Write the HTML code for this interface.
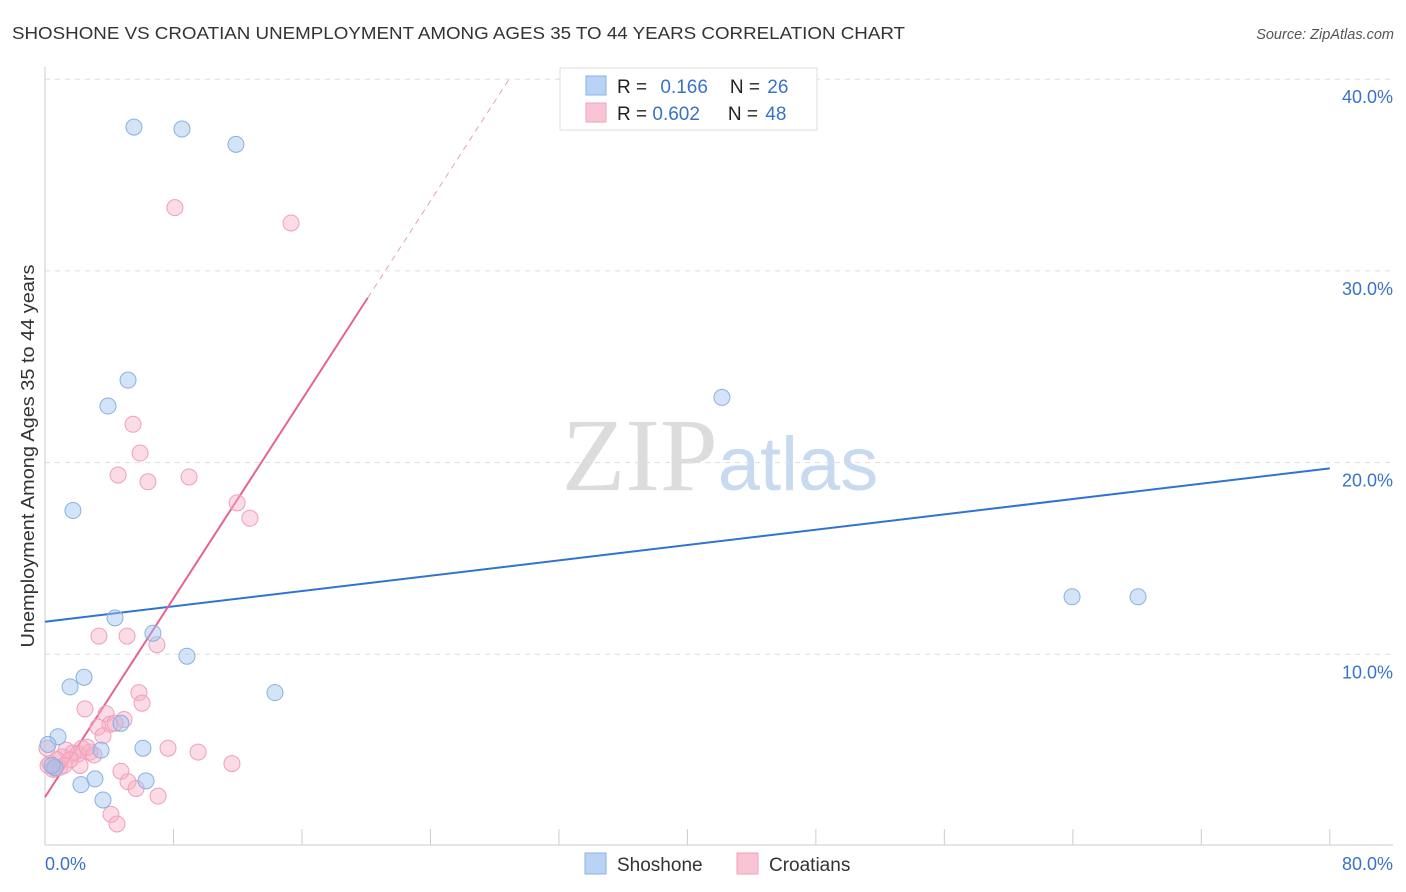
<!DOCTYPE html>
<html><head><meta charset="utf-8"><style>
body{margin:0;background:#fff;font-family:"Liberation Sans",sans-serif;}
svg{display:block}
</style></head><body>
<svg id="chart" width="1406" height="892" xmlns="http://www.w3.org/2000/svg" font-family="Liberation Sans, sans-serif">
<text x="12" y="39" font-size="17.5" fill="#333" textLength="893" lengthAdjust="spacingAndGlyphs">SHOSHONE VS CROATIAN UNEMPLOYMENT AMONG AGES 35 TO 44 YEARS CORRELATION CHART</text>
<text x="1394" y="39" font-size="14.5" fill="#555" font-style="italic" text-anchor="end">Source: ZipAtlas.com</text>
<text x="720" y="490" font-size="104" text-anchor="middle"><tspan font-family="Liberation Serif, serif" fill="#dcdcdc">ZIP</tspan><tspan fill="#c8daf0" font-size="76">atlas</tspan></text>
<g id="grid"></g>
<g id="axes"></g>
<g id="lines"></g>
<g id="points"></g>
<text transform="translate(34,456) rotate(-90)" font-size="18" fill="#333" text-anchor="middle" textLength="383" lengthAdjust="spacingAndGlyphs">Unemployment Among Ages 35 to 44 years</text>
<g>
<rect x="560" y="68" width="257" height="62" fill="#fff" stroke="#ddd"/>
<rect x="586" y="76" width="20" height="19" fill="#b8d3f5" stroke="#8ab0e0"/>
<rect x="586" y="103" width="20" height="19" fill="#f8c4d4" stroke="#f0a0b8"/>
<text x="617" y="93" font-size="19" fill="#222">R = <tspan fill="#3a72c8" dx="8">0.166</tspan><tspan dx="22" fill="#222">N = </tspan><tspan fill="#3a72c8" dx="2">26</tspan></text>
<text x="617" y="120" font-size="19" fill="#222">R = <tspan fill="#3a72c8">0.602</tspan><tspan dx="28" fill="#222">N = </tspan><tspan fill="#3a72c8" dx="2">48</tspan></text>
</g>
<g>
<rect x="585" y="853" width="21" height="21" fill="#b8d3f5" stroke="#8ab0e0"/>
<text x="617" y="871" font-size="19" fill="#333">Shoshone</text>
<rect x="737" y="853" width="21" height="21" fill="#f8c4d4" stroke="#f0a0b8"/>
<text x="769" y="871" font-size="19" fill="#333">Croatians</text>
</g>
<text x="45" y="870" font-size="18" fill="#3a72c8">0.0%</text>
<text x="1393" y="870" font-size="18" fill="#3a72c8" text-anchor="end">80.0%</text>
</svg>
<script>
const yTicks=[10,20,30,40];
const yTickLabels=["10.0%","20.0%","30.0%","40.0%"];
const xTicks=[0,8,16,24,32,40,48,56,64,72,80];
const shoshoneX=[5.54,8.53,11.89,5.17,3.92,42.15,1.74,4.36,6.72,8.84,2.43,1.56,14.32,4.73,0.81,0.19,3.49,6.10,0.62,3.11,6.29,2.24,3.61,63.95,68.06,0.44];
const shoshoneY=[37.5,37.4,36.6,24.3,22.95,23.4,17.5,11.9,11.1,9.9,8.8,8.3,8.0,6.4,5.7,5.3,5.0,5.1,4.1,3.5,3.4,3.2,2.4,13.0,13.0,4.2];
const croatX=[8.09,15.32,5.48,5.92,4.55,6.41,8.97,11.96,12.76,3.36,5.11,6.97,5.85,6.04,2.49,3.80,4.92,4.05,3.30,3.61,4.36,7.66,9.53,2.30,1.31,2.80,3.05,1.74,2.05,1.06,0.75,0.31,0.19,0.62,0.93,2.18,4.73,11.64,5.17,5.67,7.04,4.11,4.48,0.50,1.56,2.62,1.18,0.12];
const croatY=[33.3,32.5,22.0,20.5,19.35,19.0,19.25,17.9,17.1,10.95,10.95,10.5,8.0,7.45,7.15,6.9,6.6,6.35,6.2,5.75,6.4,5.1,4.9,5.1,5.0,4.9,4.75,4.85,4.8,4.65,4.5,4.3,4.2,4.05,4.1,4.2,3.9,4.3,3.35,3.0,2.6,1.65,1.15,4.0,4.5,5.15,4.2,5.1];
const blueLine=[11.7,19.7]; // y at x=0 and x=80
const pinkLine=[2.55,28.6,20.1]; // y at 0, y at solid end, x solid end
const NS="http://www.w3.org/2000/svg";
const sx=v=>45+v*16.06, sy=v=>846-v*19.17;
function mk(t,a,p){const e=document.createElementNS(NS,t);for(const k in a)e.setAttribute(k,a[k]);p.appendChild(e);return e;}
const grid=document.getElementById('grid'),axes=document.getElementById('axes'),lines=document.getElementById('lines'),pts=document.getElementById('points');
yTicks.forEach((t,i)=>{
 const l=mk('line',{x1:45,x2:1393,y1:sy(t),y2:sy(t),stroke:'#ddd','stroke-dasharray':'5,5'},grid);
 
 
 const tx=mk('text',{x:1393,y:sy(t)+24,'font-size':18,fill:'#3a72c8','text-anchor':'end'},grid);
 tx.textContent=yTickLabels[i];
 
 
});
mk('line',{x1:45,x2:45,y1:67,y2:845,stroke:'#ccc'},axes);
mk('line',{x1:45,x2:1393,y1:845,y2:845,stroke:'#ccc'},axes);
xTicks.forEach(t=>{const l=mk('line',{x1:sx(t),x2:sx(t),y1:829,y2:845,stroke:'#ccc'},axes);
 
 });
const bl=mk('line',{x1:sx(0),y1:sy(blueLine[0]),x2:sx(80),y2:sy(blueLine[1]),stroke:'#2f74d0','stroke-width':2},lines);


const slope=(pinkLine[1]-pinkLine[0])/pinkLine[2];
const pl=mk('line',{x1:sx(0),y1:sy(pinkLine[0]),x2:sx(pinkLine[2]),y2:sy(pinkLine[1]),stroke:'#e8628e','stroke-width':2},lines);


const xe=(40-pinkLine[0])/slope;
const pd=mk('line',{x1:sx(pinkLine[2]),y1:sy(pinkLine[1]),x2:sx(xe),y2:sy(40),stroke:'#e8a0b8','stroke-width':1,'stroke-dasharray':'6,5'},lines);


croatX.forEach((x,i)=>{const c=mk('circle',{cx:sx(x),cy:sy(croatY[i]),r:8,fill:'rgba(246,176,198,0.45)',stroke:'#f0a0b8','stroke-width':1},pts);
 
 });
shoshoneX.forEach((x,i)=>{const c=mk('circle',{cx:sx(x),cy:sy(shoshoneY[i]),r:8,fill:'rgba(160,196,240,0.45)',stroke:'#8ab0e0','stroke-width':1},pts);
 
 });
</script>
</body></html>
